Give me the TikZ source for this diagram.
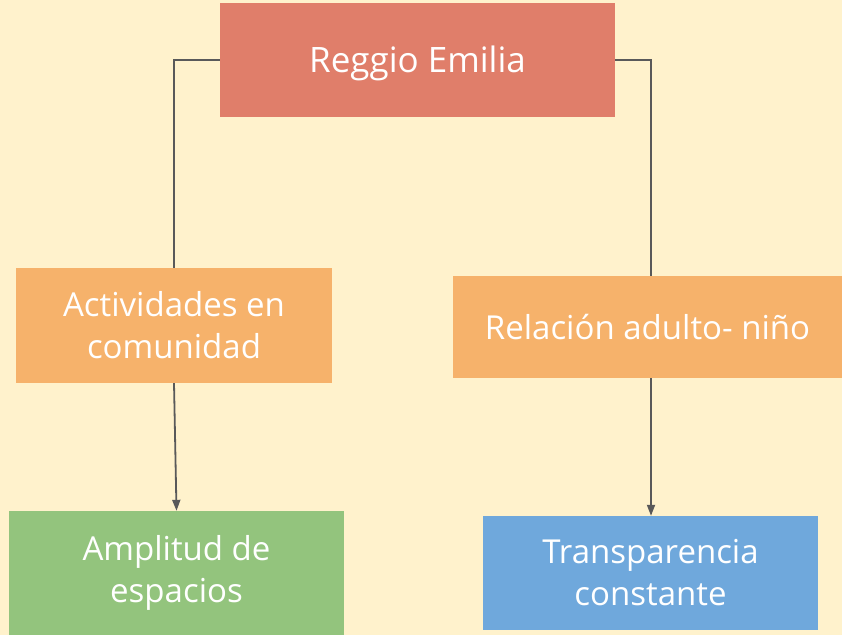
\documentclass[tikz,border=0pt]{standalone}
\usepackage{fontspec}
\setmainfont{Open Sans}
\usetikzlibrary{arrows.meta}
\definecolor{bgc}{HTML}{FFF2CC}
\definecolor{redc}{HTML}{E07E6A}
\definecolor{orc}{HTML}{F6B26B}
\definecolor{grc}{HTML}{93C47D}
\definecolor{blc}{HTML}{6FA8DC}
\definecolor{lnc}{HTML}{595959}
\tikzset{
  box/.style={draw=none, inner sep=0pt, align=center, text=white,
    font=\fontsize{33}{42}\selectfont},
  conn/.style={draw=lnc, line width=1.8pt},
  arr/.style={conn, -{Triangle[length=11pt,width=8pt]}},
}
\begin{document}
\begin{tikzpicture}[x=1pt,y=-1pt]
\fill[bgc] (0,0) rectangle (842,635);
\useasboundingbox (0,0) rectangle (842,635);
\node[box, fill=redc, minimum width=395pt, minimum height=114pt, font=\fontsize{35}{42}\selectfont, text height=34pt, text depth=9pt] (reggio) at (417.5,60) {Reggio Emilia};
\node[box, fill=orc, minimum width=316pt, minimum height=115pt] (act) at (174,325.5) {Actividades en\\comunidad};
\node[box, fill=orc, minimum width=389pt, minimum height=102pt] (rel) at (647.5,327) {Relación adulto- niño};
\node[box, fill=grc, minimum width=335pt, minimum height=124pt] (amp) at (176.5,573) {\raisebox{-4pt}{\begin{tabular}{@{}c@{}}Amplitud de\\[0pt]espacios\end{tabular}}};
\node[box, fill=blc, minimum width=335pt, minimum height=114pt] (tra) at (650.5,573) {Transparencia\\constante};
\draw[conn] (reggio.west) -| (act.north);
\draw[conn] (reggio.east) -| ([xshift=3.5pt]rel.north);
\draw[arr] (act.south) -- (amp.north);
\draw[arr] ([xshift=3.5pt]rel.south) -- ([xshift=0.5pt]tra.north);
\end{tikzpicture}
\end{document}
